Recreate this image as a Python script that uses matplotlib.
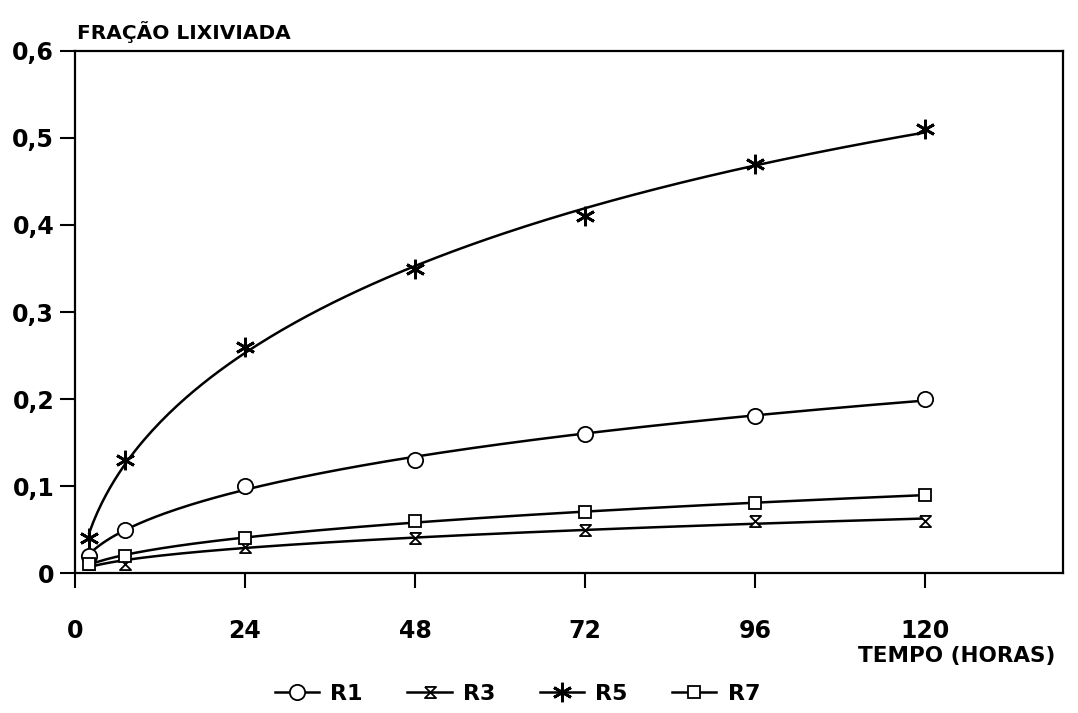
import numpy as np
import matplotlib.pyplot as plt
from matplotlib.path import Path
from matplotlib.lines import Line2D

plt.rcParams['font.family'] = ['DejaVu Sans']
plt.rcParams['font.weight'] = 'bold'

# tempo (horas)
tempo = [2, 7, 24, 48, 72, 96, 120]

# fracao lixiviada
r1 = [0.02, 0.05, 0.10, 0.13, 0.16, 0.18, 0.20]
r3 = [0.01, 0.01, 0.03, 0.04, 0.05, 0.06, 0.06]
r5 = [0.04, 0.13, 0.26, 0.35, 0.41, 0.47, 0.51]
r7 = [0.01, 0.02, 0.04, 0.06, 0.07, 0.08, 0.09]

x_ticks = [0, 24, 48, 72, 96, 120]
y_ticks = [0, 0.1, 0.2, 0.3, 0.4, 0.5, 0.6]
y_labels = ['0', '0,1', '0,2', '0,3', '0,4', '0,5', '0,6']

# hourglass marker for R3
hourglass = Path([(-1, 1), (1, 1), (-1, -1), (1, -1), (-1, 1)],
                 [Path.MOVETO, Path.LINETO, Path.LINETO, Path.LINETO, Path.LINETO])

series = [
    ('R1', r1, dict(marker='o', markersize=11, markerfacecolor='white')),
    ('R3', r3, dict(marker=hourglass, markersize=8, markerfacecolor='white')),
    ('R5', r5, dict(marker=(6, 2, 0), markersize=14)),
    ('R7', r7, dict(marker='s', markersize=9, markerfacecolor='white')),
]

fig = plt.figure(figsize=(10.78, 7.13), dpi=100)
ax = fig.add_axes([0.0696, 0.1963, 0.9164, 0.7322])

t = np.array(tempo, dtype=float)
tt = np.linspace(t[0], t[-1], 200)
handles = []
for name, vals, mk in series:
    # smooth trend drawn through the points (quadratic in sqrt(t))
    coef = np.polyfit(np.sqrt(t), vals, 2)
    ax.plot(tt, np.polyval(coef, np.sqrt(tt)), color='black', lw=1.8, zorder=2)
    mew = 2 if name == 'R5' else 1.3
    ax.plot(t, vals, linestyle='none', color='black', markeredgecolor='black',
            markeredgewidth=mew, zorder=3, **mk)
    handles.append(Line2D([], [], color='black', lw=1.8, markeredgecolor='black',
                          markeredgewidth=mew, label=name, **mk))

ax.set_xlim(0, 139.5)
ax.set_ylim(0, 0.6)
ax.set_xticks(x_ticks)
ax.set_xticklabels([str(v) for v in x_ticks])
ax.set_yticks(y_ticks)
ax.set_yticklabels(y_labels)
ax.tick_params(axis='both', direction='out', length=11, width=1.5, labelsize=17)
ax.tick_params(axis='x', pad=22)
ax.tick_params(axis='y', pad=4)
for s in ax.spines.values():
    s.set_linewidth(1.6)

fig.text(0.071, 0.955, 'FRAÇÃO LIXIVIADA', fontsize=14.5, fontweight='bold', ha='left', va='center')
fig.text(0.979, 0.08, 'TEMPO (HORAS)', fontsize=15.5, fontweight='bold', ha='right', va='center')

fig.legend(handles=handles, loc='center', bbox_to_anchor=(0.48, 0.027), ncol=4,
           frameon=False, fontsize=16, handlelength=2.0, columnspacing=2.0,
           handletextpad=0.5)

fig.savefig('out.png', dpi=100)
